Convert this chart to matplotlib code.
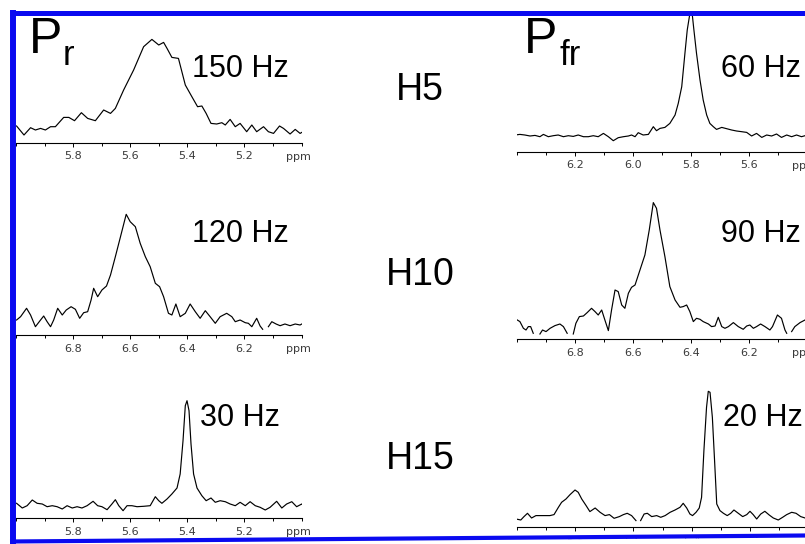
import numpy as np
import matplotlib
matplotlib.use("Agg")
import matplotlib.pyplot as plt
from matplotlib.ticker import FixedLocator

plt.rcParams['font.family'] = ['Liberation Sans', 'DejaVu Sans']

W, H = 805, 544
nan = np.nan

# --- spectra (ppm, intensity in arbitrary units) ---
# H5, P_r
tl_ppm = [5.998, 5.972, 5.949, 5.932, 5.914, 5.897, 5.879, 5.862, 5.833, 5.815,
          5.795, 5.771, 5.749, 5.722, 5.693, 5.669, 5.652, 5.623, 5.588, 5.553,
          5.524, 5.500, 5.483, 5.471, 5.454, 5.431, 5.407, 5.384, 5.364, 5.349,
          5.334, 5.317, 5.297, 5.279, 5.267, 5.250, 5.232, 5.215, 5.192, 5.174,
          5.157, 5.133, 5.116, 5.098, 5.077, 5.063, 5.040, 5.022, 5.005, 4.984]
tl_int = [16.7, 7.7, 15.0, 12.7, 14.3, 12.7, 16.0, 16.0, 25.3, 25.3,
          22.0, 30.0, 24.3, 22.0, 32.7, 29.3, 34.3, 52.7, 72.7, 96.0,
          103.3, 97.7, 100.3, 94.3, 85.3, 84.3, 57.7, 46.0, 36.0, 36.7,
          29.3, 19.3, 18.7, 20.0, 17.7, 23.3, 16.0, 19.3, 11.0, 17.7,
          11.0, 16.0, 11.0, 9.3, 16.7, 14.3, 8.7, 13.3, 9.3, 12.7]

# H5, P_fr
tr_ppm = [6.408, 6.391, 6.374, 6.356, 6.339, 6.322, 6.310, 6.293, 6.276, 6.259,
          6.241, 6.224, 6.207, 6.190, 6.172, 6.155, 6.138, 6.121, 6.103, 6.086,
          6.069, 6.052, 6.034, 6.017, 6.006, 5.994, 5.983, 5.966, 5.948, 5.931,
          5.920, 5.908, 5.891, 5.874, 5.856, 5.845, 5.833, 5.822, 5.814, 5.805,
          5.797, 5.791, 5.782, 5.770, 5.759, 5.747, 5.736, 5.724, 5.713, 5.695,
          5.678, 5.661, 5.644, 5.626, 5.609, 5.592, 5.575, 5.557, 5.540, 5.523,
          5.506, 5.489, 5.471, 5.454, 5.437, 5.420, 5.408]
tr_int = [16.7, 17.3, 16.7, 15.7, 16.3, 15.0, 17.3, 15.0, 16.0, 16.7,
          15.0, 16.0, 15.3, 16.7, 15.0, 15.0, 16.0, 15.0, 18.3, 15.0,
          11.0, 14.0, 15.0, 15.7, 16.7, 15.0, 19.0, 16.7, 17.3, 25.0,
          21.0, 23.3, 24.3, 28.3, 36.7, 48.3, 65.0, 98.3, 121.7, 138.0,
          138.0, 121.7, 98.3, 71.7, 51.7, 36.7, 28.3, 25.0, 22.3, 24.3,
          23.0, 21.7, 20.7, 20.0, 19.3, 15.7, 18.3, 14.3, 16.7, 15.7,
          17.7, 14.3, 16.7, 15.0, 16.7, 15.0, 16.0]

# H10, P_r
ml_ppm = [6.998, 6.984, 6.963, 6.949, 6.932, 6.914, 6.903, 6.891, 6.879, 6.868,
          6.854, 6.838, 6.824, 6.807, 6.792, 6.777, 6.763, 6.749, 6.737, 6.728,
          6.714, 6.699, 6.683, 6.669, 6.652, 6.634, 6.614, 6.600, 6.582, 6.565,
          6.547, 6.530, 6.512, 6.497, 6.483, 6.466, 6.454, 6.440, 6.425, 6.407,
          6.390, 6.372, 6.355, 6.337, 6.320, 6.302, 6.285, 6.262, 6.244, 6.232,
          6.215, 6.197, 6.186, 6.174, 6.157, 6.145, 6.136, 6.126, 6.116, 6.104,
          6.089, 6.075, 6.058, 6.040, 6.022, 6.005, 5.991, 5.984]
ml_int = [15.0, 18.3, 26.7, 20.0, 8.3, 15.0, 19.0, 13.3, 8.3, 15.0,
          26.7, 20.0, 25.0, 28.3, 25.7, 16.7, 22.3, 23.3, 35.0, 46.7,
          38.3, 45.0, 49.0, 60.0, 78.3, 98.3, 120.7, 113.3, 108.3, 91.7,
          78.3, 68.3, 51.7, 48.3, 38.3, 21.7, 20.0, 31.0, 18.3, 21.7,
          31.0, 23.3, 16.7, 24.3, 18.3, 11.7, 18.3, 21.7, 18.3, 13.3,
          15.0, 12.3, 11.7, 8.3, 16.7, 9.0, 5.7, nan, 8.3, 13.3,
          11.0, 9.3, 11.0, 9.3, 11.0, 10.0, 12.3, 18.3]

# H10, P_fr
mr_ppm = [7.000, 6.991, 6.979, 6.970, 6.962, 6.954, 6.945, 6.934, 6.922, 6.913,
          6.901, 6.887, 6.870, 6.853, 6.841, 6.828, 6.818, 6.807, 6.798, 6.786,
          6.772, 6.759, 6.744, 6.732, 6.721, 6.709, 6.698, 6.686, 6.675, 6.663,
          6.652, 6.640, 6.629, 6.617, 6.606, 6.594, 6.577, 6.560, 6.545, 6.531,
          6.520, 6.508, 6.491, 6.474, 6.456, 6.439, 6.428, 6.416, 6.405, 6.393,
          6.382, 6.370, 6.359, 6.341, 6.330, 6.318, 6.307, 6.295, 6.284, 6.272,
          6.255, 6.238, 6.221, 6.209, 6.198, 6.186, 6.175, 6.161, 6.146, 6.129,
          6.120, 6.103, 6.089, 6.077, 6.071, 6.062, 6.054, 6.043, 6.025, 6.008]
mr_int = [19.3, 17.7, 11.0, 9.3, 12.7, 12.7, 6.0, nan, 5.3, 9.3,
          7.7, 11.0, 13.7, 15.3, 12.7, 6.0, nan, 5.3, 16.0, 22.7,
          23.3, 26.7, 31.0, 27.7, 24.3, 29.3, 19.3, 8.7, 29.3, 49.3,
          47.7, 34.3, 31.0, 46.0, 52.0, 54.3, 69.3, 84.3, 109.3, 136.7,
          131.0, 109.3, 82.7, 52.7, 39.3, 32.0, 32.7, 34.3, 27.7, 17.7,
          21.0, 20.0, 17.7, 15.3, 12.7, 13.3, 22.0, 12.7, 11.0, 12.7,
          16.7, 12.7, 10.0, 13.3, 14.3, 11.0, 12.7, 15.3, 12.7, 9.3,
          12.7, 24.3, 21.0, 9.3, 6.0, nan, 7.7, 12.7, 16.7, 19.3]

# H15, P_r
bl_ppm = [5.998, 5.978, 5.961, 5.943, 5.926, 5.908, 5.891, 5.873, 5.856, 5.838,
          5.821, 5.803, 5.786, 5.769, 5.751, 5.730, 5.714, 5.699, 5.681, 5.664,
          5.652, 5.640, 5.625, 5.611, 5.594, 5.576, 5.553, 5.530, 5.512, 5.500,
          5.489, 5.471, 5.454, 5.436, 5.425, 5.415, 5.407, 5.401, 5.394, 5.387,
          5.378, 5.366, 5.349, 5.334, 5.317, 5.302, 5.285, 5.267, 5.250, 5.232,
          5.215, 5.197, 5.180, 5.162, 5.145, 5.127, 5.110, 5.087, 5.069, 5.052,
          5.034, 5.017, 4.999, 4.984]
bl_int = [14.7, 10.0, 12.3, 18.0, 14.7, 14.0, 11.3, 12.3, 11.3, 9.0,
          12.3, 10.0, 11.3, 10.0, 12.3, 16.7, 12.3, 11.3, 8.3, 14.0,
          18.3, 12.3, 7.3, 12.3, 12.3, 11.3, 11.7, 12.3, 21.3, 17.3,
          14.7, 19.0, 24.0, 30.0, 44.0, 77.3, 112.3, 117.3, 107.3, 74.0,
          44.0, 30.0, 22.3, 17.3, 20.0, 15.7, 17.3, 16.3, 14.0, 12.3,
          15.7, 12.3, 16.3, 12.3, 10.7, 8.0, 10.7, 16.7, 10.0, 14.0,
          16.3, 11.3, 14.0, 9.0]

# H15, P_fr
br_ppm = [6.002, 5.986, 5.975, 5.963, 5.949, 5.934, 5.920, 5.903, 5.886, 5.872,
          5.857, 5.846, 5.831, 5.817, 5.800, 5.789, 5.777, 5.762, 5.749, 5.731,
          5.714, 5.697, 5.682, 5.666, 5.648, 5.634, 5.621, 5.606, 5.591, 5.583,
          5.575, 5.563, 5.552, 5.537, 5.520, 5.506, 5.491, 5.474, 5.457, 5.440,
          5.429, 5.417, 5.406, 5.397, 5.385, 5.374, 5.366, 5.358, 5.349, 5.343,
          5.337, 5.329, 5.322, 5.314, 5.303, 5.291, 5.278, 5.266, 5.255, 5.240,
          5.225, 5.211, 5.200, 5.189, 5.177, 5.163, 5.149, 5.134, 5.120, 5.103,
          5.088, 5.074, 5.057, 5.042, 5.026, 5.011]
br_int = [8.3, 7.3, 10.7, 14.0, 9.3, 11.7, 11.7, 11.7, 11.7, 12.7,
          20.0, 25.0, 28.3, 32.7, 37.3, 35.0, 28.3, 21.7, 15.7, 19.3,
          15.0, 11.7, 12.7, 9.0, 10.7, 12.7, 14.0, 11.7, 6.7, nan,
          6.7, 13.3, 14.0, 10.7, 11.7, 10.0, 11.7, 15.0, 17.3, 20.0,
          24.0, 19.3, 13.3, 11.7, 15.0, 19.3, 30.0, 76.7, 120.0, 136.0,
          135.0, 110.0, 70.0, 23.3, 16.7, 14.0, 11.7, 14.0, 17.3, 14.0,
          10.7, 12.7, 16.0, 12.7, 8.3, 13.3, 16.0, 12.3, 9.3, 7.3,
          10.0, 12.7, 15.0, 14.0, 10.7, 9.3]

# axis ranges and labelled ticks
tl_range, tl_ticks = (6.0, 5.0), ['5.8', '5.6', '5.4', '5.2']
tr_range, tr_ticks = (6.4, 5.4), ['6.2', '6.0', '5.8', '5.6']
ml_range, ml_ticks = (7.0, 6.0), ['6.8', '6.6', '6.4', '6.2']
mr_range, mr_ticks = (7.0, 6.0), ['6.8', '6.6', '6.4', '6.2']
bl_range, bl_ticks = (6.0, 5.0), ['5.8', '5.6', '5.4', '5.2']
br_range, br_ticks = (6.0, 5.0), ['5.8', '5.6', '5.4', '5.2']

row_labels = ['H5', 'H10', 'H15']
left_widths = ['150 Hz', '120 Hz', '30 Hz']
right_widths = ['60 Hz', '90 Hz', '20 Hz']

fig = plt.figure(figsize=(W / 100, H / 100), dpi=100)
fig.patch.set_facecolor('white')

AX_H = 140  # axes height in pixels, 1 unit = 1 px
tick_font = 'DejaVu Sans'


def add_panel(x0, x1, y_axis, xrange, ppm, inten, ticks):
    ax = fig.add_axes([x0 / W, (H - y_axis) / H, (x1 - x0) / W, AX_H / H])
    ax.plot(np.array(ppm, float), np.array(inten, float), color='black', lw=0.85)
    ax.set_xlim(xrange)
    ax.set_ylim(0, AX_H)
    ax.patch.set_visible(False)
    for s in ['left', 'right', 'top']:
        ax.spines[s].set_visible(False)
    ax.spines['bottom'].set_linewidth(0.8)
    ax.set_yticks([])
    major = [float(t) for t in ticks]
    ax.xaxis.set_major_locator(FixedLocator(major))
    ax.set_xticklabels(ticks, fontfamily=tick_font)
    lo, hi = min(xrange), max(xrange)
    ax.xaxis.set_minor_locator(FixedLocator(np.round(np.arange(lo, hi + 0.05, 0.1), 1)))
    ax.tick_params(axis='x', which='major', length=3.2, width=0.7, pad=3.0,
                   labelsize=8, labelcolor='#3a3a3a')
    ax.tick_params(axis='x', which='minor', length=2.4, width=0.7)
    ax.text(xrange[1] + 0.01, -9 / AX_H, 'ppm', transform=ax.get_xaxis_transform(),
            ha='center', va='top', fontsize=8, color='#3a3a3a', family=tick_font)
    return ax


add_panel(16, 301.5, 142.7, tl_range, tl_ppm, tl_int, tl_ticks)
add_panel(517.3, 807.3, 151.7, tr_range, tr_ppm, tr_int, tr_ticks)
add_panel(16, 301.5, 335, ml_range, ml_ppm, ml_int, ml_ticks)
add_panel(517.3, 807.3, 339.3, mr_range, mr_ppm, mr_int, mr_ticks)
add_panel(16, 301.5, 518, bl_range, bl_ppm, bl_int, bl_ticks)
add_panel(516.7, 808.3, 527.3, br_range, br_ppm, br_int, br_ticks)

# overlay in pixel coordinates for labels and the blue frame
ov = fig.add_axes([0, 0, 1, 1])
ov.set_xlim(0, W)
ov.set_ylim(H, 0)
ov.axis('off')
ov.set_zorder(10)
ov.patch.set_visible(False)

ov.text(29, 53, 'P', fontsize=36, va='baseline', ha='left')
ov.text(63, 65, 'r', fontsize=25, va='baseline', ha='left')
ov.text(524, 53, 'P', fontsize=36, va='baseline', ha='left')
ov.text(559, 65, 'fr', fontsize=25, va='baseline', ha='left')

for y, lab in zip([100, 285, 469], row_labels):
    ov.text(420, y, lab, fontsize=27, va='baseline', ha='center')
for (x, y), lab in zip([(192, 77), (192, 242), (200, 426)], left_widths):
    ov.text(x, y, lab, fontsize=22, va='baseline', ha='left')
for (x, y), lab in zip([(721, 77), (721, 242), (723, 426)], right_widths):
    ov.text(x, y, lab, fontsize=22, va='baseline', ha='left')

blue = '#0a0af0'
ov.fill([16, W, W, 16], [543, 537.5, H, H], color='white', lw=0)
ov.plot([13, 13], [10, H], color=blue, lw=4.3, solid_capstyle='butt')
ov.plot([10, W], [12.5, 12.5], color=blue, lw=3.6, solid_capstyle='butt')
ov.plot([10, W], [541.5, 535.5], color=blue, lw=3.0, solid_capstyle='butt')

fig.savefig('out.png', dpi=100)
